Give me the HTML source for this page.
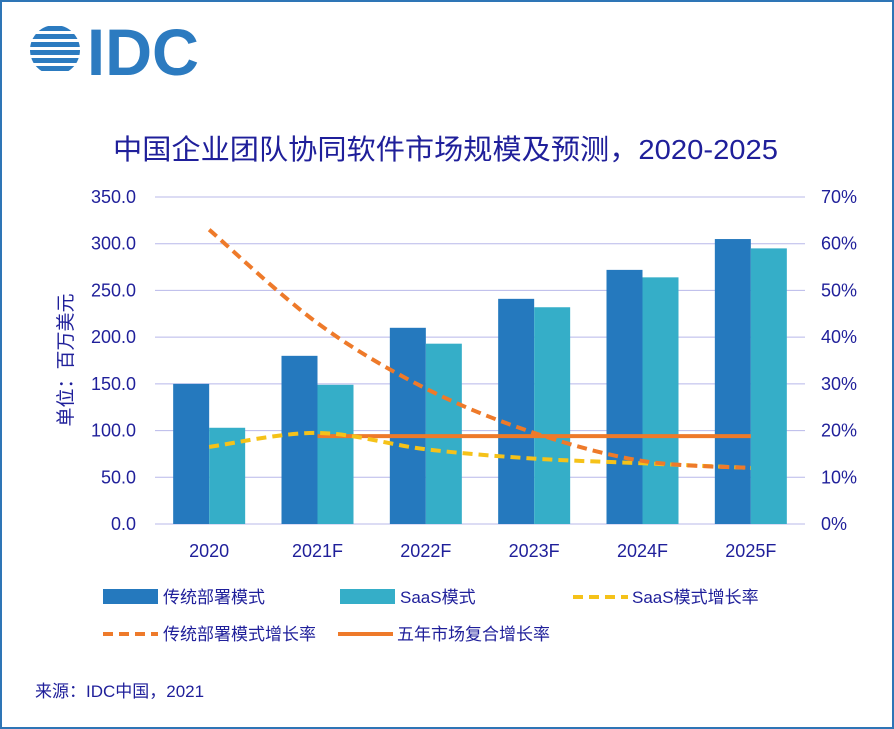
<!DOCTYPE html>
<html><head><meta charset="utf-8"><style>
html,body{margin:0;padding:0;background:#fff}
svg{display:block;font-family:"Liberation Sans","Noto Sans CJK SC",sans-serif}
</style></head><body>
<svg id="c" width="894" height="729" viewBox="0 0 894 729">
<rect x="1" y="1" width="892" height="727" fill="#fff" stroke="#2e75b6" stroke-width="2"/>
<g>
 <clipPath id="gc"><circle cx="55" cy="50" r="25"/></clipPath>
 <g clip-path="url(#gc)" fill="#2c7bc0">
  <rect x="28" y="26" width="54" height="5"/><rect x="28" y="34" width="54" height="5"/>
  <rect x="28" y="42" width="54" height="5"/><rect x="28" y="50" width="54" height="5"/>
  <rect x="28" y="58" width="54" height="5"/><rect x="28" y="66" width="54" height="5"/>
 </g>
 <text x="87" y="75" font-size="66" font-weight="bold" fill="#2c7bc0" textLength="112" lengthAdjust="spacingAndGlyphs">IDC</text>
</g>
<text x="113" y="159" font-size="28" fill="#1f1f9a" textLength="665" lengthAdjust="spacingAndGlyphs">中国企业团队协同软件市场规模及预测，2020-2025</text>
<g id="grid"></g><g id="bars"></g><g id="lines"></g><g id="axes"></g>
<text transform="translate(72,360) rotate(-90)" font-size="19" fill="#1f1f9a" text-anchor="middle">单位：百万美元</text>
<g font-size="17" fill="#1f1f9a">
 <g><rect x="103" y="589" width="55" height="15" fill="#2579be"/><text x="163" y="603">传统部署模式</text></g>
 <g><rect x="340" y="589" width="55" height="15" fill="#35aec8"/><text x="400" y="603">SaaS模式</text></g>
 <g><line x1="573" y1="597" x2="628" y2="597" stroke="#f5c219" stroke-width="4" stroke-dasharray="10,6"/><text x="632" y="603">SaaS模式增长率</text></g>
 <g><line x1="103" y1="634" x2="158" y2="634" stroke="#ee7a2a" stroke-width="4" stroke-dasharray="10,6"/><text x="163" y="640">传统部署模式增长率</text></g>
 <g><line x1="338" y1="634" x2="393" y2="634" stroke="#ee7a2a" stroke-width="4"/><text x="397" y="640">五年市场复合增长率</text></g>
</g>
<text x="35" y="697" font-size="17" fill="#1f1f9a">来源：IDC中国，2021</text>
</svg>
<script>
const categories=["2020","2021F","2022F","2023F","2024F","2025F"];
const traditional=[150,180,210,241,272,305];
const saas=[103,149,193,232,264,295];
const traditionalGrowth=[63,43,29,19.5,13.5,12];
const saasGrowth=[16.5,19.5,16,14,13,12];
const cagr=18.8;
const leftTicks=["0.0","50.0","100.0","150.0","200.0","250.0","300.0","350.0"];
const rightTicks=["0%","10%","20%","30%","40%","50%","60%","70%"];
const NS="http://www.w3.org/2000/svg";
const X0=155,X1=805,Y0=524,Y1=197;
const yL=v=>Y0-(v/350)*(Y0-Y1);
const yR=v=>Y0-(v/70)*(Y0-Y1);
const step=(X1-X0)/categories.length;
const xC=i=>X0+step*(i+0.5);
function mk(tag,attrs,parent){const e=document.createElementNS(NS,tag);for(const k in attrs)e.setAttribute(k,attrs[k]);parent.appendChild(e);return e;}
const grid=document.getElementById('grid'),bars=document.getElementById('bars'),lines=document.getElementById('lines'),axes=document.getElementById('axes');
leftTicks.forEach((t,i)=>{
 const y=yL(i*50);
 const g=mk('line',{x1:X0,x2:X1,y1:y,y2:y,stroke:'#b8b8ea','stroke-width':1},grid);
 
 
 const a=mk('text',{x:136,y:y+6,'font-size':18,fill:'#1f1f9a','text-anchor':'end'},axes);a.textContent=t;
 
 
 const b=mk('text',{x:821,y:y+6,'font-size':18,fill:'#1f1f9a'},axes);b.textContent=rightTicks[i];
 
 
});
const bw=36;
categories.forEach((c,i)=>{
 const x=xC(i);
 const r1=mk('rect',{x:x-bw,y:yL(traditional[i]),width:bw,height:Y0-yL(traditional[i]),fill:'#2579be'},bars);
 
 
 const r2=mk('rect',{x:x,y:yL(saas[i]),width:bw,height:Y0-yL(saas[i]),fill:'#35aec8'},bars);
 
 
 const t=mk('text',{x:x,y:557,'font-size':18,fill:'#1f1f9a','text-anchor':'middle'},axes);t.textContent=c;
 
 
});
function smooth(pts){let d='M'+pts[0][0]+','+pts[0][1];
 for(let i=0;i<pts.length-1;i++){const p0=pts[i-1]||pts[i],p1=pts[i],p2=pts[i+1],p3=pts[i+2]||p2;
  const c1=[p1[0]+(p2[0]-p0[0])/6,p1[1]+(p2[1]-p0[1])/6],c2=[p2[0]-(p3[0]-p1[0])/6,p2[1]-(p3[1]-p1[1])/6];
  d+=' C'+c1+' '+c2+' '+p2;}return d;}
const cl=mk('line',{x1:xC(1),x2:xC(5),y1:yR(cagr),y2:yR(cagr),stroke:'#ee7a2a','stroke-width':4},lines);


const sp=mk('path',{d:smooth(saasGrowth.map((v,i)=>[xC(i),yR(v)])),fill:'none',stroke:'#f5c219','stroke-width':4,'stroke-dasharray':'10,6'},lines);


const tp=mk('path',{d:smooth(traditionalGrowth.map((v,i)=>[xC(i),yR(v)])),fill:'none',stroke:'#ee7a2a','stroke-width':4,'stroke-dasharray':'10,6'},lines);


</script>
</body></html>
